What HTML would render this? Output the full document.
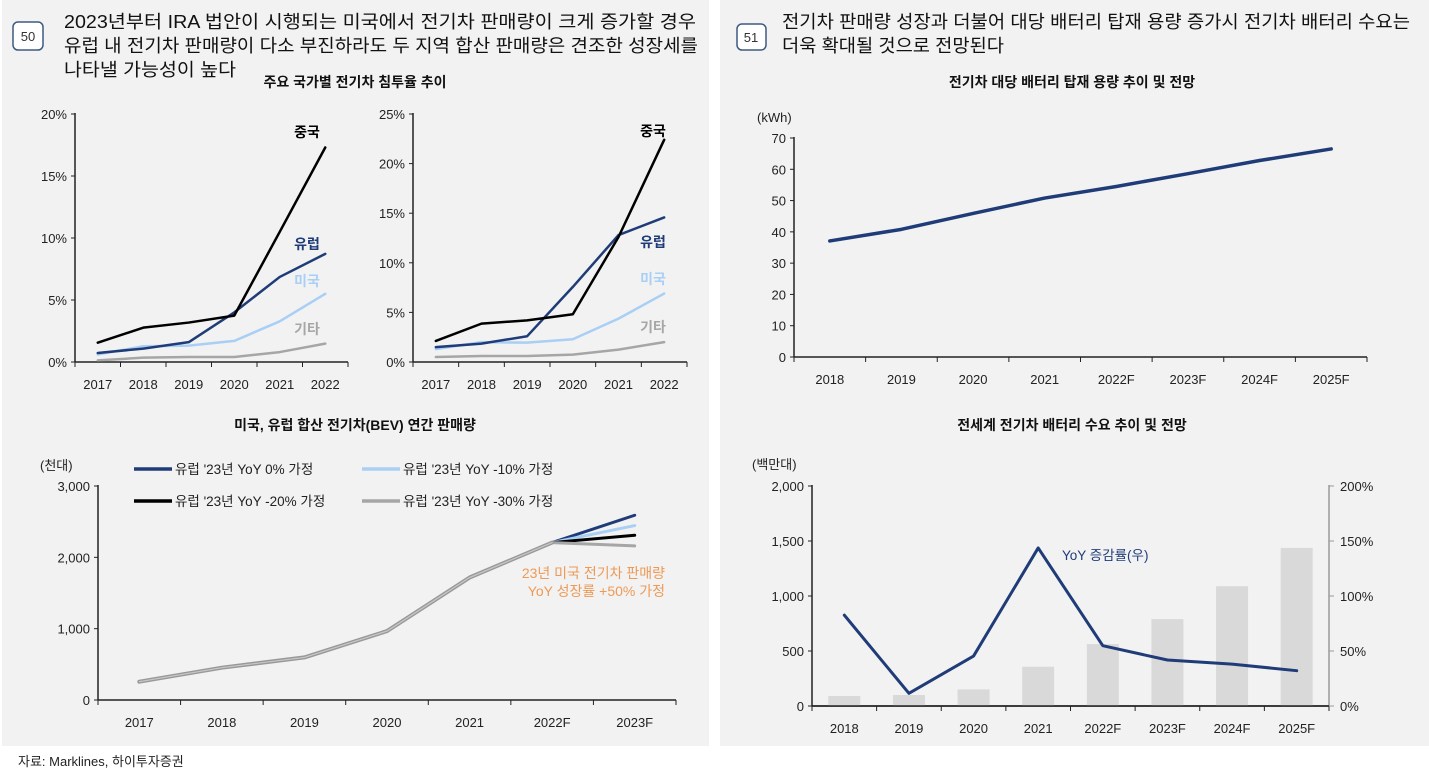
<!DOCTYPE html>
<html><head><meta charset="utf-8">
<style>
body{margin:0;background:#fff;width:1429px;height:773px;overflow:hidden;}
svg{display:block;font-family:"Liberation Sans","Noto Sans CJK KR",sans-serif;}
</style></head>
<body>
<svg id="s" width="1429" height="773" viewBox="0 0 1429 773" xmlns="http://www.w3.org/2000/svg">
<rect x="2" y="0" width="707" height="746" fill="#f2f2f2"/>
<rect x="720" y="0" width="709" height="746" fill="#f2f2f2"/>
<rect x="13" y="22" width="30" height="28" rx="5" fill="#fff" stroke="#3d5a80" stroke-width="1.5"/>
<text x="28" y="41" font-size="13" text-anchor="middle" fill="#333">50</text>
<g font-size="18" fill="#111" lengthAdjust="spacingAndGlyphs">
<text x="64" y="28" textLength="632" lengthAdjust="spacingAndGlyphs">2023년부터 IRA 법안이 시행되는 미국에서 전기차 판매량이 크게 증가할 경우</text>
<text x="64" y="52" textLength="634" lengthAdjust="spacingAndGlyphs">유럽 내 전기차 판매량이 다소 부진하라도 두 지역 합산 판매량은 견조한 성장세를</text>
<text x="64" y="76" textLength="172" lengthAdjust="spacingAndGlyphs">나타낼 가능성이 높다</text>
</g>
<rect x="737" y="24" width="29" height="26" rx="5" fill="#fff" stroke="#3d5a80" stroke-width="1.5"/>
<text x="751" y="42" font-size="13" text-anchor="middle" fill="#333">51</text>
<g font-size="18" fill="#111">
<text x="782" y="28" textLength="628" lengthAdjust="spacingAndGlyphs">전기차 판매량 성장과 더불어 대당 배터리 탑재 용량 증가시 전기차 배터리 수요는</text>
<text x="782" y="52" textLength="222" lengthAdjust="spacingAndGlyphs">더욱 확대될 것으로 전망된다</text>
</g>
<g font-size="14" font-weight="bold" fill="#111" text-anchor="middle">
<text x="355" y="87">주요 국가별 전기차 침투율 추이</text>
<text x="355" y="430">미국, 유럽 합산 전기차(BEV) 연간 판매량</text>
<text x="1072" y="87">전기차 대당 배터리 탑재 용량 추이 및 전망</text>
<text x="1072" y="430">전세계 전기차 배터리 수요 추이 및 전망</text>
</g>
<text x="18" y="766" font-size="13" fill="#222">자료: Marklines, 하이투자증권</text>
<g id="g"></g>
</svg>
<script>
// Chart A: penetration (left small)
const yearsA = ["2017","2018","2019","2020","2021","2022"];
const aChina = [1.56,2.77,3.18,3.74,10.5,17.3];
const aEurope = [0.73,1.08,1.6,4.0,6.86,8.72];
const aUS = [0.6,1.27,1.32,1.7,3.28,5.5];
const aOther = [0.13,0.35,0.4,0.4,0.8,1.48];
const aTicks = [0,5,10,15,20];
// Chart B: penetration (right small)
const bChina = [2.12,3.87,4.2,4.81,12.6,22.4];
const bEurope = [1.5,1.85,2.6,7.57,12.8,14.57];
const bUS = [1.3,2.0,1.95,2.29,4.37,6.9];
const bOther = [0.5,0.6,0.6,0.74,1.25,2.0];
const bTicks = [0,5,10,15,20,25];
// Chart C: sales
const yearsC = ["2017","2018","2019","2020","2021","2022F","2023F"];
const cBase = [257,453,597,966,1717,2207];
const c2023 = [2590,2445,2310,2160]; // 0%, -10%, -20%, -30%
const cTicks = [0,1000,2000,3000];
const cLegend = ["유럽 '23년 YoY 0% 가정","유럽 '23년 YoY -10% 가정","유럽 '23년 YoY -20% 가정","유럽 '23년 YoY -30% 가정"];
// Chart D: kWh
const yearsD = ["2018","2019","2020","2021","2022F","2023F","2024F","2025F"];
const dKwh = [37.1,40.8,45.9,50.8,54.5,58.6,62.8,66.5];
const dTicks = [0,10,20,30,40,50,60,70];
// Chart E: demand
const eDemand = [91,100,151,357,563,790,1089,1437];
const eYoY = [82.6,11.5,45.4,143.7,54.8,41.8,38.1,32.1];
const eTicksL = [0,500,1000,1500,2000];
const eTicksR = [0,50,100,150,200];

const NS="http://www.w3.org/2000/svg";
const G=document.getElementById('g');
function el(tag,attrs,parent){const e=document.createElementNS(NS,tag);for(const k in attrs)e.setAttribute(k,attrs[k]);(parent||G).appendChild(e);return e;}
function txt(x,y,s,attrs){const e=el('text',Object.assign({x:x,y:y,'font-size':13,fill:'#222'},attrs||{}));e.textContent=s;return e;}
function fmt(n){return n.toLocaleString('en-US');}

function axes(o){
  const xs=i=>o.x0+(o.x1-o.x0)/o.n*(i+0.5);
  const ys=v=>o.y0-(o.y0-o.y1)*v/o.max;
  el('line',{x1:o.x0,y1:o.y0,x2:o.x0,y2:o.y1-1,stroke:'#222','stroke-width':1.5});
  el('line',{x1:o.x0,y1:o.y0,x2:o.x1,y2:o.y0,stroke:'#222','stroke-width':1.5});
  o.ticks.forEach(t=>{const y=ys(t);el('line',{x1:o.x0-4,y1:y,x2:o.x0,y2:y,stroke:'#222'});
    const e=txt(o.x0-8,y+5,o.fmtL(t),{'text-anchor':'end'});});
  for(let i=0;i<=o.n;i++){const x=o.x0+(o.x1-o.x0)/o.n*i;el('line',{x1:x,y1:o.y0,x2:x,y2:o.y0+5,stroke:'#222'});}
  o.cats.forEach((c,i)=>{const e=txt(xs(i),o.y0+27,c,{'text-anchor':'middle'});});
  return {xs,ys};
}
function line(xs,ys,vals,color,w,name,offset){
  const pts=vals.map((v,i)=>xs(i+(offset||0))+','+ys(v)).join(' ');
  const p=el('polyline',{points:pts,fill:'none',stroke:color,'stroke-width':w,'stroke-linejoin':'round','stroke-linecap':'round'});
  
  
  return p;
}
const NAVY='#1f3c78',LIGHT='#a9cff5',GRAY='#a6a6a6';

// A
let A=axes({x0:75,x1:348,y0:362,y1:114,max:20,n:6,ticks:aTicks,cats:yearsA,fmtL:t=>t+'%'});
line(A.xs,A.ys,aOther,GRAY,2.5,'line-other-a');
line(A.xs,A.ys,aUS,LIGHT,2.5,'line-us-a');
line(A.xs,A.ys,aEurope,NAVY,2.5,'line-europe-a');
line(A.xs,A.ys,aChina,'#000',2.5,'line-china-a');
[['중국',137,'#000'],['유럽',249,NAVY],['미국',286,LIGHT],['기타',334,GRAY]].forEach(l=>{const e=txt(307,l[1],l[0],{'font-size':14,'font-weight':'bold',fill:l[2],'text-anchor':'middle'});});
// B
let B=axes({x0:413,x1:687,y0:362,y1:114,max:25,n:6,ticks:bTicks,cats:yearsA,fmtL:t=>t+'%'});
line(B.xs,B.ys,bOther,GRAY,2.5,'line-other-b');
line(B.xs,B.ys,bUS,LIGHT,2.5,'line-us-b');
line(B.xs,B.ys,bEurope,NAVY,2.5,'line-europe-b');
line(B.xs,B.ys,bChina,'#000',2.5,'line-china-b');
[['중국',136,'#000'],['유럽',247,NAVY],['미국',284,LIGHT],['기타',332,GRAY]].forEach(l=>{const e=txt(653,l[1],l[0],{'font-size':14,'font-weight':'bold',fill:l[2],'text-anchor':'middle'});});

// C
let C=axes({x0:98,x1:676,y0:700,y1:486,max:3000,n:7,ticks:cTicks,cats:yearsC,fmtL:fmt});
const cCols=[NAVY,LIGHT,'#000',GRAY];
c2023.forEach((v,k)=>{line(C.xs,C.ys,[cBase[5],v],cCols[k],3,'line-scenario-'+k,5);});
line(C.xs,C.ys,cBase,'#999',4,'line-base-history');
line(C.xs,C.ys,cBase,'#c8c8c8',1.2,'line-base-history-inner');
[[134,469],[362,469],[134,501],[362,501]].forEach((p,k)=>{
  const l=el('line',{x1:p[0],y1:p[1],x2:p[0]+38,y2:p[1],stroke:cCols[k],'stroke-width':3.5});
  
  
  const t=txt(p[0]+41,p[1]+5,cLegend[k],{'font-size':13.5});
  
  
});
txt(40,470,'(천대)',{'font-size':13});
txt(665,578,'23년 미국 전기차 판매량',{'font-size':14,fill:'#ee9a55','text-anchor':'end'});
txt(665,596,'YoY 성장률 +50% 가정',{'font-size':14,fill:'#ee9a55','text-anchor':'end'});

// D
let D=axes({x0:794,x1:1367,y0:357,y1:138,max:70,n:8,ticks:dTicks,cats:yearsD,fmtL:String});
line(D.xs,D.ys,dKwh,NAVY,3.5,'line-kwh');
txt(757,122,'(kWh)',{'font-size':13});

// E
let E=axes({x0:812,x1:1329,y0:706,y1:486,max:2000,n:8,ticks:eTicksL,cats:yearsD,fmtL:fmt});
el('line',{x1:1329,y1:706,x2:1329,y2:485,stroke:'#999','stroke-width':1.5});
const yr=v=>706-220*v/200;
eTicksR.forEach(t=>{el('line',{x1:1329,y1:yr(t),x2:1334,y2:yr(t),stroke:'#999'});
  const e=txt(1340,yr(t)+5,t+'%');});
eDemand.forEach((v,i)=>{const r=el('rect',{x:E.xs(i)-16,y:E.ys(v),width:32,height:706-E.ys(v),fill:'#d9d9d9'});
  
  });
el('line',{x1:812,y1:706,x2:1329,y2:706,stroke:'#222','stroke-width':1.5});
line(E.xs,yr,eYoY,NAVY,3,'line-yoy');
txt(1062,560,'YoY 증감률(우)',{'font-size':13.5,fill:NAVY});
txt(752,469,'(백만대)',{'font-size':13});
</script>
</body></html>
